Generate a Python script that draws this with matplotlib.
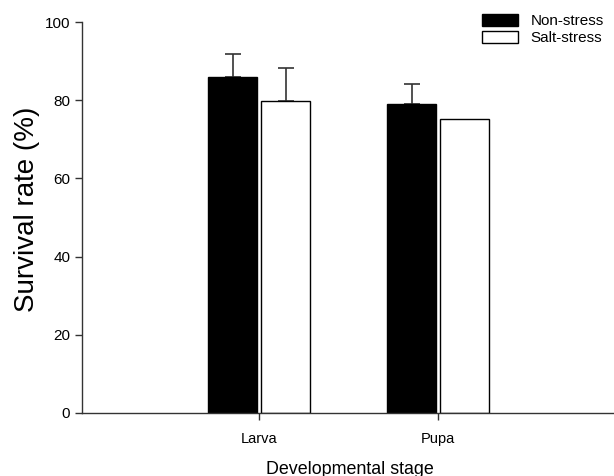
import matplotlib
matplotlib.use("Agg")
import matplotlib.pyplot as plt
import numpy as np

plt.rcParams['font.family'] = ['Liberation Sans', 'DejaVu Sans']

stages = ["Larva", "Pupa"]
non_stress = [86.0, 79.0]
non_stress_err = [5.9, 5.1]
salt_stress = [79.9, 75.2]
salt_stress_err = [8.4, 0.0]

fig = plt.figure(figsize=(6.14, 4.76), dpi=100)
ax = fig.add_axes([82/614, 1-413/476, 537/614, (413-22)/476])

x = np.arange(1, len(stages)+1)
w = 0.274
off = 0.149
ax.bar(x - off, non_stress, width=w, color='black', edgecolor='black', linewidth=1,
       label='Non-stress', zorder=2)
ax.bar(x + off, salt_stress, width=w, color='white', edgecolor='black', linewidth=1,
       label='Salt-stress', zorder=2)
ax.errorbar(x - off, non_stress, yerr=[np.zeros(2), non_stress_err], fmt='none',
            ecolor='#333333', elinewidth=1.2, capsize=6, capthick=1.2, zorder=1)
salt_e = np.array(salt_stress_err)
mask = salt_e > 0
ax.errorbar((x + off)[mask], np.array(salt_stress)[mask],
            yerr=[np.zeros(mask.sum()), salt_e[mask]], fmt='none',
            ecolor='#333333', elinewidth=1.2, capsize=6, capthick=1.2, zorder=1)

ax.set_xlim(0.01, 3.01)
ax.set_ylim(0, 100)
ax.set_yticks([0, 20, 40, 60, 80, 100])
ax.set_xticks(x)
ax.set_xticklabels(stages)
for s in ['top', 'right']:
    ax.spines[s].set_visible(False)
for s in ['left', 'bottom']:
    ax.spines[s].set_color('#333333')
    ax.spines[s].set_linewidth(1)
ax.tick_params(axis='both', direction='out', length=5, width=1, colors='#333333',
               labelcolor='black', labelsize=11)
ax.tick_params(axis='x', pad=9, labelsize=10.5)
ax.set_ylabel('Survival rate (%)', fontsize=20)
ax.set_xlabel('Developmental stage', fontsize=12.9)
ax.yaxis.set_label_coords(27.5/614, 1-209/476, transform=fig.transFigure)
ax.yaxis.label.set_va('center')
ax.xaxis.set_label_coords(350/614, 1-469/476, transform=fig.transFigure)
ax.xaxis.label.set_va('center')

leg = ax.legend(loc='upper right', bbox_to_anchor=(610/614, 1 - 8/476),
                bbox_transform=fig.transFigure, frameon=False, fontsize=11,
                handlelength=2.4, handleheight=0.85, handletextpad=0.8,
                labelspacing=0.15, borderaxespad=0)

fig.savefig('out.png', dpi=100)
